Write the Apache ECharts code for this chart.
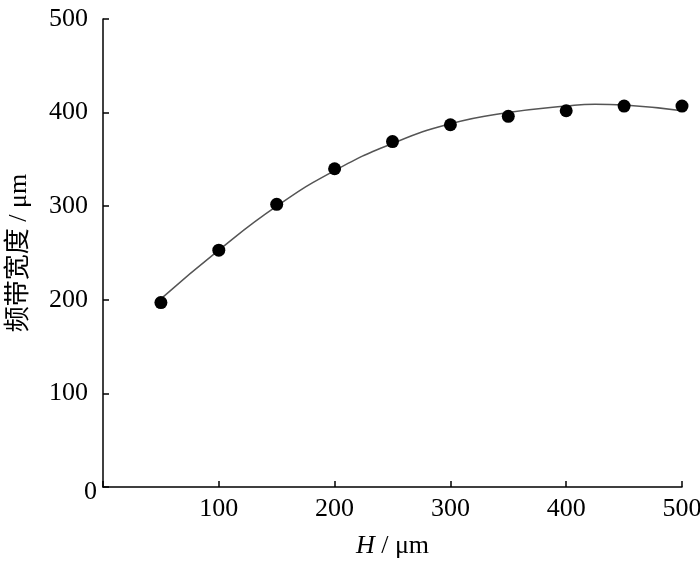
<!DOCTYPE html>
<html>
<head>
<meta charset="utf-8">
<script src="https://cdn.jsdelivr.net/npm/echarts@6/dist/echarts.min.js"></script>
<style>
  html, body { margin: 0; padding: 0; background: #fff; }
  #chart { width: 700px; height: 563px; }
</style>
</head>
<body>
<div id="chart"></div>
<script>
// measured points (H in μm, bandwidth in μm)
const heights = [50, 100, 150, 200, 250, 300, 350, 400, 450, 500]
const bandwidth = [197, 253, 302, 340, 369, 387, 396, 402, 407, 407]
// fitted curve
const fitX = [50, 100, 150, 200, 250, 300, 350, 400, 425, 450, 500]
const fitY = [201, 253, 300, 338, 367, 388, 400, 407, 409, 408, 402]

const serif = '"Liberation Serif", "Noto Sans CJK SC", serif'

const chart = echarts.init(document.getElementById('chart'))

const option = {
  animation: false,
  // keep the plot box fixed even though the "500" label touches the edge
  grid: { left: 103, right: 18, top: 19, bottom: 76, containLabel: false, outerBoundsMode: 'none' },
  xAxis: {
    type: 'value',
    min: 0,
    max: 500,
    interval: 100,
    name: '{i|H} / μm',
    nameLocation: 'middle',
    nameGap: 46,
    nameTextStyle: {
      color: '#000',
      fontFamily: serif,
      fontSize: 26,
      rich: { i: { fontStyle: 'italic', fontFamily: serif, fontSize: 26, color: '#000' } }
    },
    axisLine: { lineStyle: { color: '#000', width: 1.5 } },
    axisTick: { inside: true, length: 6, lineStyle: { color: '#000', width: 1.5 } },
    axisLabel: {
      color: '#000', fontFamily: serif, fontSize: 26, margin: 9,
      formatter: v => (v === 0 ? '' : v)
    },
    splitLine: { show: false }
  },
  yAxis: {
    type: 'value',
    min: 0,
    max: 500,
    interval: 100,
    name: '频带宽度 / μm',
    nameLocation: 'middle',
    nameGap: 71,
    nameTextStyle: { color: '#000', fontFamily: serif, fontSize: 26 },
    axisLine: { show: true, lineStyle: { color: '#000', width: 1.5 } },
    axisTick: { show: true, inside: true, length: 6, lineStyle: { color: '#000', width: 1.5 } },
    axisLabel: {
      color: '#000', fontFamily: serif, fontSize: 26, margin: 6,
      formatter: v => (v === 0 ? '{z|0}' : '{n|' + v + '}'),
      rich: {
        n: { fontFamily: serif, fontSize: 26, color: '#000', padding: [0, 9, 0, 0] },
        z: { fontFamily: serif, fontSize: 26, color: '#000', padding: [10, 0, 0, 0] }
      }
    },
    splitLine: { show: false }
  },
  series: [
    {
      type: 'line',
      data: fitX.map((x, i) => [x, fitY[i]]),
      smooth: true,
      showSymbol: false,
      lineStyle: { color: '#555', width: 1.5 },
      z: 2
    },
    {
      type: 'scatter',
      data: heights.map((x, i) => [x, bandwidth[i]]),
      symbolSize: 13,
      itemStyle: { color: '#000', opacity: 1 },
      z: 3
    }
  ]
}

chart.setOption(option)
</script>
</body>
</html>
